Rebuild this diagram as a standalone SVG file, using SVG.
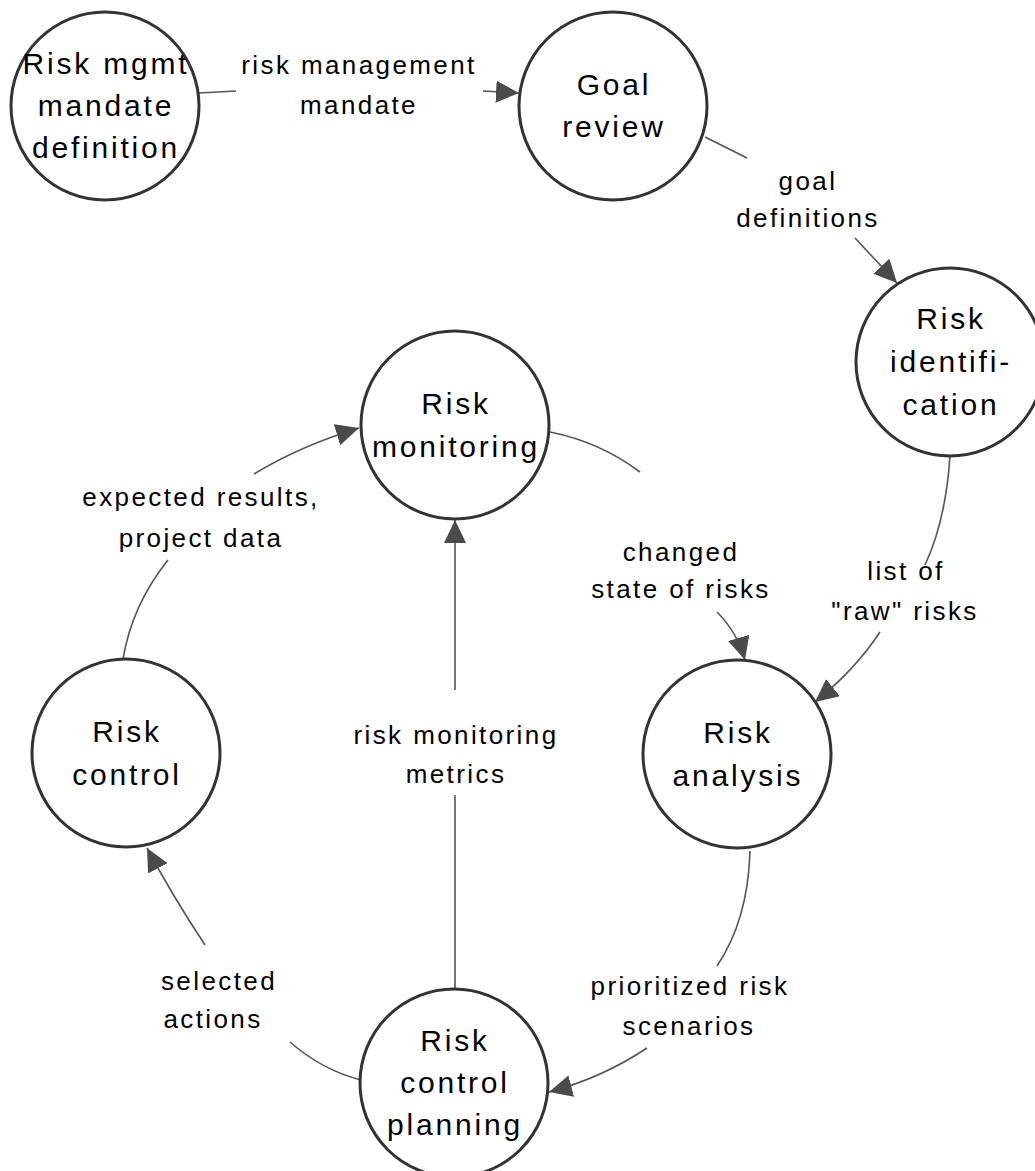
<svg xmlns="http://www.w3.org/2000/svg" width="1035" height="1171" viewBox="0 0 1035 1171">
  <style>
    .node circle { fill: #ffffff; stroke: #333333; stroke-width: 3; }
    .node text { font-family: "Liberation Sans", Arial, sans-serif; font-size: 30px; letter-spacing: 2.8px; fill: #000000; text-anchor: middle; }
    .edge { fill: none; stroke: #555555; stroke-width: 1.6; }
    .label { font-family: "Liberation Sans", Arial, sans-serif; font-size: 26px; letter-spacing: 2.4px; fill: #000000; text-anchor: middle; }
  </style>
  <defs>
    <marker id="arrow" markerUnits="userSpaceOnUse" markerWidth="24" markerHeight="22" refX="23" refY="11" orient="auto">
      <path d="M0,0 L23,11 L0,22 z" fill="#4a4a4a"/>
    </marker>
  </defs>
  <rect width="1035" height="1171" fill="#ffffff"/>

  <!-- connectors: each edge is split into two pieces around its label -->
  <g id="connectors">
    <g id="e-mandate">
      <path class="edge" d="M199,93 L236,91"/>
      <path class="edge" d="M483,91 L519,93" marker-end="url(#arrow)"/>
      <text class="label" x="359" y="74">risk management</text>
      <text class="label" x="359" y="114">mandate</text>
    </g>
    <g id="e-goals">
      <path class="edge" d="M705,137 L747,158"/>
      <path class="edge" d="M855,238 L897,283" marker-end="url(#arrow)"/>
      <text class="label" x="808" y="190">goal</text>
      <text class="label" x="808" y="227">definitions</text>
    </g>
    <g id="e-raw">
      <path class="edge" d="M950,455 Q946,520 925,565"/>
      <path class="edge" d="M880,632 Q855,670 815,702" marker-end="url(#arrow)"/>
      <text class="label" x="906" y="580">list of</text>
      <text class="label" x="905" y="620">"raw" risks</text>
    </g>
    <g id="e-changed">
      <path class="edge" d="M550,432 Q600,442 640,472"/>
      <path class="edge" d="M717,612 Q737,632 745,660" marker-end="url(#arrow)"/>
      <text class="label" x="681" y="561">changed</text>
      <text class="label" x="681" y="598">state of risks</text>
    </g>
    <g id="e-prioritized">
      <path class="edge" d="M750,851 Q748,920 717,966"/>
      <path class="edge" d="M647,1048 Q602,1078 549,1092" marker-end="url(#arrow)"/>
      <text class="label" x="690" y="995">prioritized risk</text>
      <text class="label" x="689" y="1035">scenarios</text>
    </g>
    <g id="e-metrics">
      <path class="edge" d="M455,988 L455,795"/>
      <path class="edge" d="M455,690 L455,520" marker-end="url(#arrow)"/>
      <text class="label" x="456" y="744">risk monitoring</text>
      <text class="label" x="456" y="783">metrics</text>
    </g>
    <g id="e-selected">
      <path class="edge" d="M361,1080 Q322,1070 290,1042"/>
      <path class="edge" d="M205,945 Q172,895 147,848" marker-end="url(#arrow)"/>
      <text class="label" x="219" y="990">selected</text>
      <text class="label" x="213" y="1028">actions</text>
    </g>
    <g id="e-expected">
      <path class="edge" d="M123,659 Q132,605 168,560"/>
      <path class="edge" d="M254,474 Q300,446 359,428" marker-end="url(#arrow)"/>
      <text class="label" x="201" y="506">expected results,</text>
      <text class="label" x="201" y="547">project data</text>
    </g>
  </g>

  <!-- process nodes -->
  <g id="n-mandate" class="node">
    <circle cx="105" cy="106" r="94"/>
    <text x="106" y="74">Risk mgmt</text>
    <text x="106" y="116">mandate</text>
    <text x="106" y="158">definition</text>
  </g>
  <g id="n-goal" class="node">
    <circle cx="613" cy="106" r="94"/>
    <text x="614" y="95">Goal</text>
    <text x="614" y="137">review</text>
  </g>
  <g id="n-identification" class="node">
    <circle cx="950" cy="362" r="94"/>
    <text x="951" y="329">Risk</text>
    <text x="951" y="372">identifi-</text>
    <text x="951" y="415">cation</text>
  </g>
  <g id="n-monitoring" class="node">
    <circle cx="455" cy="425" r="94"/>
    <text x="456" y="414">Risk</text>
    <text x="456" y="457">monitoring</text>
  </g>
  <g id="n-control" class="node">
    <circle cx="126" cy="753" r="94"/>
    <text x="127" y="742">Risk</text>
    <text x="127" y="785">control</text>
  </g>
  <g id="n-analysis" class="node">
    <circle cx="737" cy="754" r="94"/>
    <text x="738" y="743">Risk</text>
    <text x="738" y="786">analysis</text>
  </g>
  <g id="n-planning" class="node">
    <circle cx="454" cy="1083" r="94"/>
    <text x="455" y="1051">Risk</text>
    <text x="455" y="1093">control</text>
    <text x="455" y="1135">planning</text>
  </g>
</svg>
